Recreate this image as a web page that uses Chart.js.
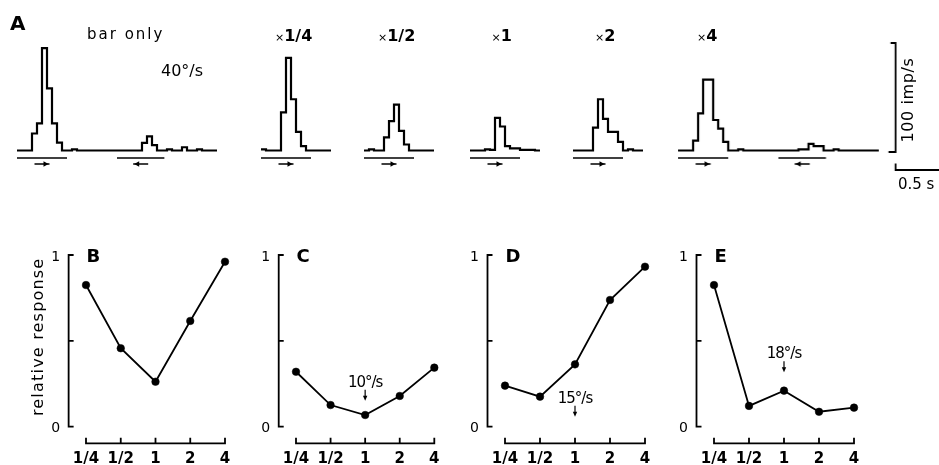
<!DOCTYPE html>
<html><head><meta charset="utf-8">
<script src="https://cdn.jsdelivr.net/npm/chart.js@4.4.1/dist/chart.umd.min.js"></script>
<style>
html,body{margin:0;padding:0;background:#fff;}
#fig{position:relative;width:939px;height:465px;overflow:hidden;background:#fff;font-family:"DejaVu Sans",sans-serif;color:#000;}
.box{position:absolute;}
.txt{position:absolute;white-space:nowrap;}
</style></head><body><div id="fig"></div>
<script>
// ---------------- data ----------------
const BIN_S = 0.057;                       // histogram bin width (s)
const HIST_BAR_ONLY = [0,0,0,15.6,24.8,94,57,24.8,7.3,0, 0,1,0,0,0,0,0,0,0,0, 0,0,0,0,0,7,13,5,0,0, 1,0,0,3,0,0,1,0,0,0];
const HIST_X_QUARTER = [1,0,0,0,35,85,47,17,4,0,0,0,0,0];
const HIST_X_HALF    = [0,1,0,0,12,27,42,18,5.5,0,0,0,0,0];
const HIST_X_ONE     = [0,0,0,1,0.5,30,22,4,2,2,0.5,0.5,0.5,0];
const HIST_X_TWO     = [0,0,0,0,21,47,29,17,17,8,0,1,0,0];
const HIST_X_FOUR    = [0,0,0,9,34,65,65,28,20,8, 0,0,1,0,0,0,0,0,0,0, 0,0,0,0,1,1,6,4,4,0, 0,1,0,0,0,0,0,0,0,0];
const STIM_FORWARD = [0, 0.57];            // s, sweep in preferred direction
const STIM_REVERSE = [1.14, 1.68];         // s, return sweep
const SCALE_IMPS = 100;                    // imp/s scale bar
const SCALE_SEC = 0.5;                     // s time bar

const SPEED_FACTORS = ['1/4','1/2','1','2','4'];
const RESP_B = [0.825, 0.457, 0.262, 0.616, 0.961];
const RESP_C = [0.320, 0.126, 0.068, 0.179, 0.344];
const RESP_D = [0.239, 0.175, 0.363, 0.738, 0.932];
const RESP_E = [0.825, 0.121, 0.210, 0.087, 0.111];
const Y_TICKS = [0, 0.5, 1];
const Y_TICK_LABELS = ['0', '', '1'];

// ---------------- layout / style ----------------
const INK = '#000';
const FONT = '"DejaVu Sans", sans-serif';
const PX_PER_BIN = 5;
const fig = document.getElementById('fig');

function makeBox(left, top, w, h) {
  const d = document.createElement('div'); d.className = 'box';
  Object.assign(d.style, {left: left + 'px', top: top + 'px', width: w + 'px', height: h + 'px'});
  const c = document.createElement('canvas'); d.appendChild(c); fig.appendChild(d);
  return c;
}
function addText(parts, x, baseline, size, extra) {
  const d = document.createElement('div'); d.className = 'txt';
  d.style.fontSize = size + 'px'; d.style.lineHeight = size + 'px';
  d.style.left = x + 'px'; d.style.top = (baseline - 0.846 * size) + 'px';
  Object.assign(d.style, extra || {});
  parts.forEach(p => {
    if (typeof p === 'string') d.appendChild(document.createTextNode(p));
    else { const s = document.createElement('span'); s.textContent = p.t; s.style.fontSize = p.size + 'px'; s.style.fontWeight = 'normal'; d.appendChild(s); }
  });
  fig.appendChild(d); return d;
}
function addRotText(str, cx, cy, size, extra) {
  const d = document.createElement('div'); d.className = 'txt';
  Object.assign(d.style, {fontSize: size + 'px', lineHeight: size + 'px', left: cx + 'px', top: cy + 'px',
    transform: 'translate(-50%,-50%) rotate(-90deg)'}, extra || {});
  d.textContent = str; fig.appendChild(d);
}

// ---------------- histograms (panel A) ----------------
function histChart(data, startPx, stims, withScale) {
  const n = data.length, plotW = n * PX_PER_BIN;
  const padR = withScale ? 60.7 : 2;
  const H = withScale ? 170 : 140;
  const canvas = makeBox(startPx - 2, 30, plotW + 2 + padR, H);
  const pts = data.map((v, i) => ({x: i * BIN_S, y: v}));
  pts.push({x: n * BIN_S, y: 0});
  const plugin = {
    id: 'stim',
    afterDatasetsDraw(chart) {
      const {ctx, chartArea: a, scales: {x, y}} = chart;
      const y0 = y.getPixelForValue(0);
      ctx.save();
      ctx.strokeStyle = INK; ctx.fillStyle = INK; ctx.lineWidth = 1.5;
      stims.forEach(([s, e, dir]) => {
        const xa = x.getPixelForValue(s), xb = x.getPixelForValue(e);
        ctx.beginPath(); ctx.moveTo(xa, y0 + 7.5); ctx.lineTo(xb, y0 + 7.5); ctx.stroke();
        const cx = (xa + xb) / 2, ay = y0 + 13.5, half = 7.5;
        ctx.beginPath(); ctx.moveTo(cx - half, ay); ctx.lineTo(cx + half, ay); ctx.stroke();
        const tip = cx + dir * (half - 1);
        ctx.beginPath(); ctx.moveTo(tip, ay); ctx.lineTo(tip - dir * 5, ay - 2.8); ctx.lineTo(tip - dir * 5, ay + 2.8);
        ctx.closePath(); ctx.fill();
      });
      if (withScale) {
        const bx = a.right + 16.7;
        const yTop = y.getPixelForValue(SCALE_IMPS) + 1.5, yBot = y0 + 1.5;
        ctx.lineWidth = 1.8;
        ctx.beginPath(); ctx.moveTo(bx - 5, yTop); ctx.lineTo(bx, yTop); ctx.lineTo(bx, yBot); ctx.lineTo(bx - 7, yBot); ctx.stroke();
        const tb = y0 + 19.5;
        const len = x.getPixelForValue(SCALE_SEC) - x.getPixelForValue(0);
        ctx.beginPath(); ctx.moveTo(bx, tb - 6.5); ctx.lineTo(bx, tb); ctx.lineTo(bx + len, tb); ctx.stroke();
      }
      ctx.restore();
    }
  };
  new Chart(canvas, {
    type: 'line',
    data: {datasets: [{data: pts, stepped: true, borderColor: INK, borderWidth: 2.2, pointRadius: 0,
      fill: false, clip: false, borderJoinStyle: 'miter', borderCapStyle: 'butt'}]},
    options: {
      animation: false, responsive: true, maintainAspectRatio: false, events: [],
      layout: {padding: {left: 2, right: padR, top: 11.5, bottom: H - 120.5}},
      plugins: {legend: {display: false}, tooltip: {enabled: false}},
      scales: {x: {type: 'linear', display: false, min: 0, max: n * BIN_S},
               y: {display: false, min: 0, max: 100}}
    },
    plugins: [plugin]
  });
}
const FWD = [STIM_FORWARD[0], STIM_FORWARD[1], 1];
const REV = [STIM_REVERSE[0], STIM_REVERSE[1], -1];
histChart(HIST_BAR_ONLY, 16.7, [FWD, REV], false);
histChart(HIST_X_QUARTER, 260.7, [FWD], false);
histChart(HIST_X_HALF, 364, [FWD], false);
histChart(HIST_X_ONE, 470, [FWD], false);
histChart(HIST_X_TWO, 573.3, [FWD], false);
histChart(HIST_X_FOUR, 678.3, [FWD, REV], true);

addText(['A'], 10, 30, 20, {fontWeight: 'bold'});
addText(['bar only'], 87, 40, 15, {letterSpacing: '2px'});
addText(['40°/s'], 161, 76.5, 16);
addText([{t: '×', size: 11}, '1/4'], 275, 41.5, 16, {fontWeight: 'bold'});
addText([{t: '×', size: 11}, '1/2'], 378, 41.5, 16, {fontWeight: 'bold'});
addText([{t: '×', size: 11}, '1'], 491.5, 41.5, 16, {fontWeight: 'bold'});
addText([{t: '×', size: 11}, '2'], 595, 41.5, 16, {fontWeight: 'bold'});
addText([{t: '×', size: 11}, '4'], 697, 41.5, 16, {fontWeight: 'bold'});
addRotText('100 imp/s', 907.8, 100, 16, {letterSpacing: '0.6px'});
addText(['0.5 s'], 898, 190, 15);

// ---------------- tuning curves (panels B-E) ----------------
const PANELS = [
  {letter: 'B', data: RESP_B, left: 0,   width: 250, x0: 86,  x4: 225,   note: null, ylabel: 'relative response'},
  {letter: 'C', data: RESP_C, left: 220, width: 240, x0: 296, x4: 434.3, note: {text: '10°/s', v: 0.233}},
  {letter: 'D', data: RESP_D, left: 450, width: 240, x0: 505, x4: 645,   note: {text: '15°/s', v: 0.140}},
  {letter: 'E', data: RESP_E, left: 660, width: 279, x0: 714, x4: 854,   note: {text: '18°/s', v: 0.398}}
];
const PANEL_TOP = 240, PANEL_H = 225, AREA_TOP = 255, AREA_BOTTOM = 426.7;

PANELS.forEach(p => {
  const sp = (p.x4 - p.x0) / (SPEED_FACTORS.length - 1);
  const areaL = p.x0 - sp / 2, areaR = p.x4 + sp / 2;
  const canvas = makeBox(p.left, PANEL_TOP, p.width, PANEL_H);
  const plugin = {
    id: 'panelAxes',
    beforeDatasetsDraw(chart) {
      const {ctx, chartArea: a, scales: {x, y}} = chart;
      ctx.save();
      ctx.strokeStyle = INK; ctx.fillStyle = INK; ctx.lineWidth = 1.8; ctx.lineCap = 'butt';
      const yl = a.left;
      ctx.beginPath();
      ctx.moveTo(yl, y.getPixelForValue(1)); ctx.lineTo(yl, y.getPixelForValue(0));
      Y_TICKS.forEach(v => { const py = y.getPixelForValue(v); ctx.moveTo(yl - 0.9, py); ctx.lineTo(yl + 5, py); });
      ctx.stroke();
      ctx.font = '14px ' + FONT; ctx.textAlign = 'right'; ctx.textBaseline = 'alphabetic';
      Y_TICKS.forEach((v, i) => { if (Y_TICK_LABELS[i]) ctx.fillText(Y_TICK_LABELS[i], yl - 8.5, y.getPixelForValue(v) + 5.5); });
      const xy = y.getPixelForValue(0) + 16.6;
      const xs = SPEED_FACTORS.map((_, i) => x.getPixelForValue(i));
      ctx.beginPath();
      ctx.moveTo(xs[0] - 0.9, xy); ctx.lineTo(xs[xs.length - 1] + 0.9, xy);
      xs.forEach(px => { ctx.moveTo(px, xy + 0.9); ctx.lineTo(px, xy - 5.5); });
      ctx.stroke();
      ctx.font = 'bold 15px ' + FONT; ctx.textAlign = 'center';
      SPEED_FACTORS.forEach((l, i) => ctx.fillText(l, xs[i], xy + 20));
      ctx.font = 'bold 18px ' + FONT; ctx.textAlign = 'left';
      ctx.fillText(p.letter, xs[0] + 0.5, y.getPixelForValue(1) + 6.7);
      if (p.note) {
        const nx = xs[2], nb = y.getPixelForValue(p.note.v);
        ctx.font = '15px ' + FONT; ctx.textAlign = 'center';
        try { ctx.letterSpacing = '-1px'; } catch (e) {}
        ctx.fillText(p.note.text, nx, nb);
        try { ctx.letterSpacing = '0px'; } catch (e) {}
        ctx.lineWidth = 1.2;
        ctx.beginPath(); ctx.moveTo(nx, nb + 3); ctx.lineTo(nx, nb + 10); ctx.stroke();
        ctx.beginPath(); ctx.moveTo(nx, nb + 14); ctx.lineTo(nx - 2.2, nb + 9); ctx.lineTo(nx + 2.2, nb + 9); ctx.closePath(); ctx.fill();
      }
      if (p.ylabel) {
        ctx.save();
        ctx.translate(yl - 26, (y.getPixelForValue(0) + y.getPixelForValue(1)) / 2 - 4);
        ctx.rotate(-Math.PI / 2);
        ctx.font = '16px ' + FONT; ctx.textAlign = 'center'; ctx.textBaseline = 'alphabetic';
        try { ctx.letterSpacing = '1.2px'; } catch (e) {}
        ctx.fillText(p.ylabel, 0, 0);
        ctx.restore();
      }
      ctx.restore();
    }
  };
  new Chart(canvas, {
    type: 'line',
    data: {labels: SPEED_FACTORS, datasets: [{data: p.data, borderColor: INK, borderWidth: 1.8, tension: 0,
      pointRadius: 3.8, pointBackgroundColor: INK, pointBorderColor: INK, pointBorderWidth: 0.5, clip: false, fill: false}]},
    options: {
      animation: false, responsive: true, maintainAspectRatio: false, events: [],
      layout: {padding: {left: areaL - p.left, right: p.left + p.width - areaR,
                         top: AREA_TOP - PANEL_TOP, bottom: PANEL_TOP + PANEL_H - AREA_BOTTOM}},
      plugins: {legend: {display: false}, tooltip: {enabled: false}},
      scales: {x: {type: 'category', offset: true, display: false},
               y: {display: false, min: 0, max: 1}}
    },
    plugins: [plugin]
  });
});
</script>
</body></html>
